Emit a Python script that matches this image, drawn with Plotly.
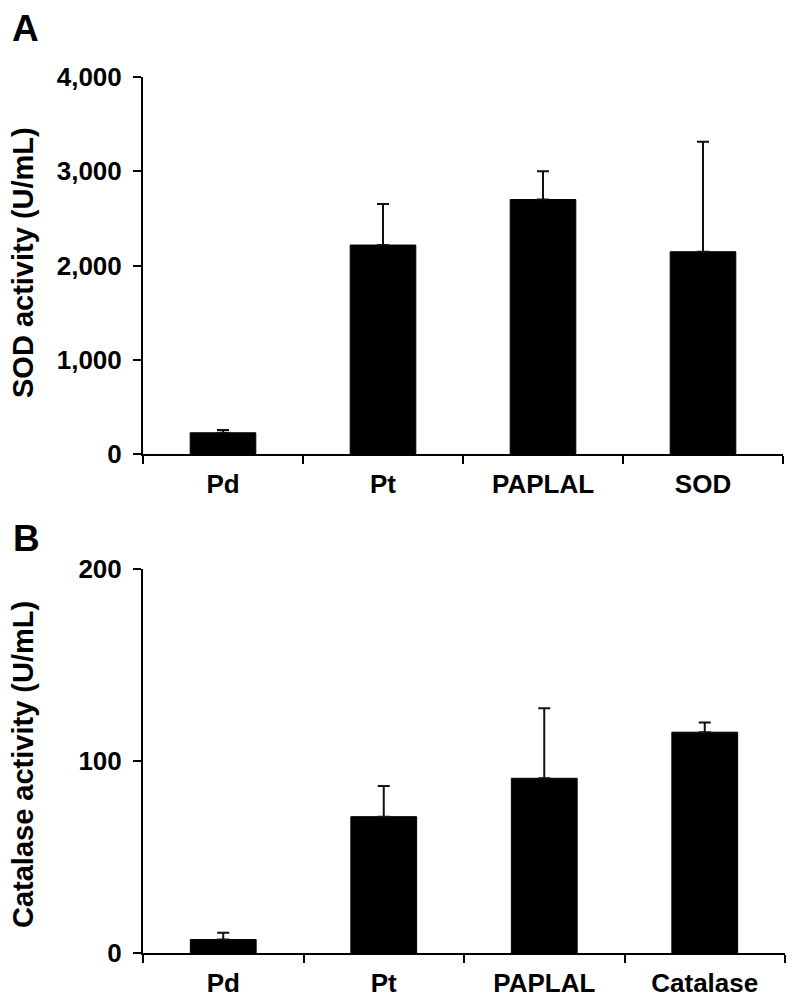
import plotly.graph_objects as go

cats_a = ["Pd", "Pt", "PAPLAL", "SOD"]
sod_vals = [225, 2217, 2700, 2146]
sod_err = [30, 435, 300, 1168]

cats_b = ["Pd", "Pt", "PAPLAL", "Catalase"]
cat_vals = [7, 71, 91, 115]
cat_err = [3.5, 16, 36.5, 5]

y_ticks_a = [0, 1000, 2000, 3000, 4000]
y_ticks_b = [0, 100, 200]

W, H = 797, 1004
FONT = "Liberation Sans, Arial, sans-serif"

def px_x(v):
    return v / W

def px_y(v):
    return 1 - v / H

fig = go.Figure()

bar_style = dict(marker=dict(color="black", line=dict(color="black", width=1)), width=0.41,
                 showlegend=False)
err_style = dict(type="data", symmetric=False, color="#111111", thickness=2, width=6)

fig.add_trace(go.Bar(x=cats_a, y=sod_vals, xaxis="x", yaxis="y",
                     error_y=dict(array=sod_err, arrayminus=[0] * len(sod_err), **err_style),
                     **bar_style))
fig.add_trace(go.Bar(x=cats_b, y=cat_vals, xaxis="x2", yaxis="y2",
                     error_y=dict(array=cat_err, arrayminus=[0] * len(cat_err), **err_style),
                     **bar_style))

axis_common = dict(showline=True, linecolor="black", linewidth=2, ticks="outside",
                   ticklen=8, tickwidth=2, tickcolor="black", showgrid=False, zeroline=False,
                   automargin=False,
                   tickfont=dict(family=FONT, size=26, color="black", weight="bold"))

fig.update_layout(
    template="none",
    width=W, height=H, autosize=False,
    margin=dict(l=0, r=0, t=0, b=0, pad=0),
    plot_bgcolor="white", paper_bgcolor="white",
    showlegend=False,
    xaxis=dict(domain=[px_x(143), px_x(783)], anchor="y", range=[-0.5, 3.5],
               tickson="boundaries", ticklabelstandoff=6, **axis_common),
    yaxis=dict(domain=[px_y(454), px_y(77)], anchor="x", range=[0, 4000],
               tickvals=y_ticks_a, tickformat=",d", ticklabelstandoff=6, **axis_common),
    xaxis2=dict(domain=[px_x(143), px_x(785)], anchor="y2", range=[-0.5, 3.5],
                tickson="boundaries", ticklabelstandoff=6, **axis_common),
    yaxis2=dict(domain=[px_y(953), px_y(569)], anchor="x2", range=[0, 200],
                tickvals=y_ticks_b, ticklabelstandoff=6, **axis_common),
)

ann_font = dict(family=FONT, size=29, color="black", weight="bold")
fig.add_annotation(text="SOD activity (U/mL)", textangle=-90, xref="paper", yref="paper",
                   x=px_x(23), y=px_y(263), xanchor="center", yanchor="middle",
                   showarrow=False, font=ann_font)
fig.add_annotation(text="Catalase activity (U/mL)", textangle=-90, xref="paper", yref="paper",
                   x=px_x(23), y=px_y(765), xanchor="center", yanchor="middle",
                   showarrow=False, font=ann_font)

lab_font = dict(family=FONT, size=37, color="black", weight="bold")
fig.add_annotation(text="A", xref="paper", yref="paper", x=px_x(25), y=px_y(29),
                   xanchor="center", yanchor="middle", showarrow=False, font=lab_font)
fig.add_annotation(text="B", xref="paper", yref="paper", x=px_x(26), y=px_y(538),
                   xanchor="center", yanchor="middle", showarrow=False, font=lab_font)

fig.write_html("out.html", config={"responsive": False, "displayModeBar": False},
               post_script="document.body.style.margin='0';document.body.style.overflow='hidden';")
